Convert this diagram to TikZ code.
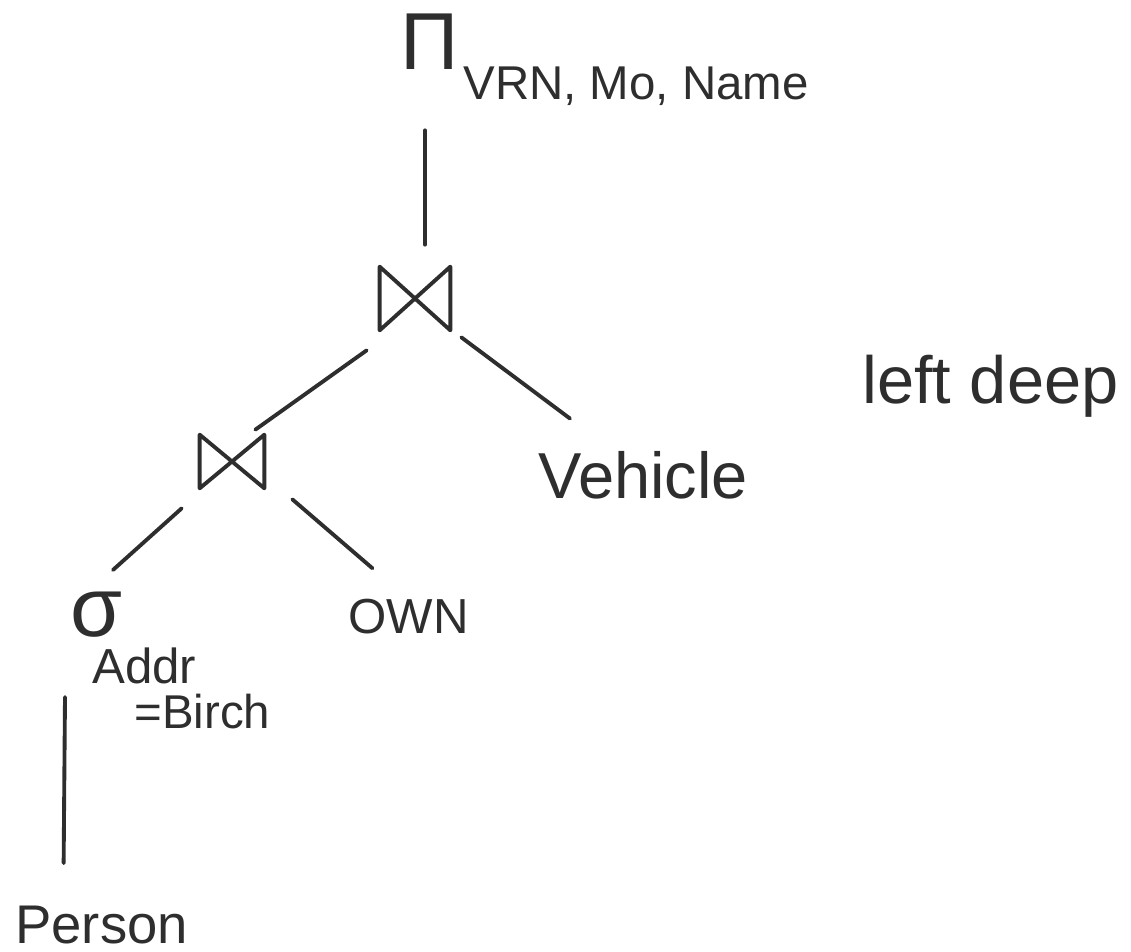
\documentclass[tikz,border=0pt]{standalone}
\usepackage{fontspec}
\setmainfont{Liberation Sans}
\usetikzlibrary{calc}
\definecolor{ink}{HTML}{2E2E2E}
\begin{document}
\begin{tikzpicture}[x=0.02cm,y=-0.02cm,
  edge/.style={draw=ink,line width=2.2pt,line cap=round,line join=round},
  lbl/.style={text=ink,inner sep=0pt,anchor=base west},
  joinbox/.style={inner sep=0pt,minimum width=#1}]
\useasboundingbox (0,0) rectangle (1131,952);

% projection at the root
\node[lbl,anchor=base,font=\fontsize{46}{46}\selectfont] (pi) at (430,70) {Π};
\node[lbl,font=\fontsize{27}{27}\selectfont] (proj) at (463,100) {VRN, Mo, Name};

% upper join
\node[joinbox=1.4cm,minimum height=1.26cm] (j1) at (415,298.5) {};
\draw[edge] (j1.north west) -- (j1.south west) -- (j1.north east) -- (j1.south east) -- cycle;

% lower join
\node[joinbox=1.28cm,minimum height=1.06cm] (j2) at (232,461.5) {};
\draw[edge] (j2.north west) -- (j2.south west) -- (j2.north east) -- (j2.south east) -- cycle;

% leaves and selection
\node[lbl,font=\fontsize{37}{37}\selectfont] (veh) at (538,498) {Vehicle};
\node[lbl,font=\fontsize{38}{38}\selectfont] (note) at (862,403) {left deep};
\node[lbl,anchor=center,font=\fontsize{48}{48}\selectfont] (sigma) at (97,615) {σ};
\node[lbl,font=\fontsize{28}{28}\selectfont] (addr) at (92,683) {Addr};
\node[lbl,font=\fontsize{27}{27}\selectfont] (birch) at (134,728) {=Birch};
\node[lbl,font=\fontsize{28}{28}\selectfont] (own) at (348,633) {OWN};
\node[lbl,font=\fontsize{31}{31}\selectfont] (person) at (15,943) {Person};

% tree edges
\draw[edge] ([shift={(-5,60)}]pi.south) -- ([shift={(10,-22)}]j1.north);
\draw[edge] ([shift={(-13,20)}]j1.south west) -- ([shift={(-9,-5)}]j2.north east);
\draw[edge] ([shift={(11,7)}]j1.south east) -- ([shift={(32,-32)}]veh.north west);
\draw[edge] ([shift={(-18,20)}]j2.south west) -- ([shift={(16,-22)}]sigma.north);
\draw[edge] ([shift={(28,11)}]j2.south east) -- ([shift={(-36,-30)}]own.north);
\draw[edge] ([shift={(-32,59)}]sigma.south) -- ([shift={(-38,-42)}]person.north);
\end{tikzpicture}
\end{document}
